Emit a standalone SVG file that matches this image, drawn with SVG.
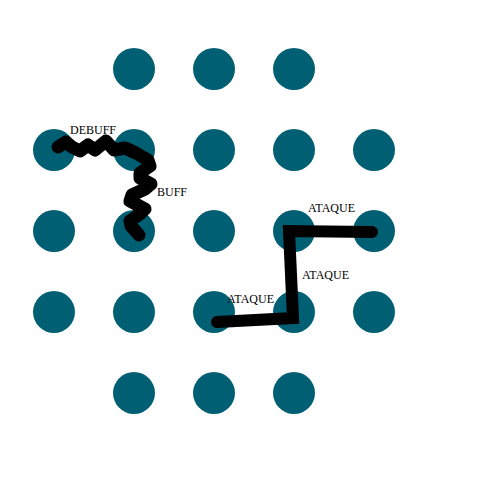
<svg xmlns="http://www.w3.org/2000/svg" width="480" height="480" viewBox="0 0 480 480">
<style>
.n{fill:#005f73}
.e{fill:none;stroke:#000;stroke-width:12;stroke-linecap:round;stroke-linejoin:round}
.t{font-family:"Liberation Serif",serif;font-size:12px;fill:#000}
</style>
<rect width="480" height="480" fill="#fff"/>
<g id="n1"><circle class="n" cx="134" cy="69" r="21"/></g>
<g id="n2"><circle class="n" cx="214" cy="69" r="21"/></g>
<g id="n3"><circle class="n" cx="294" cy="69" r="21"/></g>
<g id="n4"><circle class="n" cx="54" cy="150" r="21"/></g>
<g id="n5"><circle class="n" cx="134" cy="150" r="21"/></g>
<g id="n6"><circle class="n" cx="214" cy="150" r="21"/></g>
<g id="n7"><circle class="n" cx="294" cy="150" r="21"/></g>
<g id="n8"><circle class="n" cx="374" cy="150" r="21"/></g>
<g id="n9"><circle class="n" cx="54" cy="231" r="21"/></g>
<g id="n10"><circle class="n" cx="134" cy="231" r="21"/></g>
<g id="n11"><circle class="n" cx="214" cy="231" r="21"/></g>
<g id="n12"><circle class="n" cx="294" cy="231" r="21"/></g>
<g id="n13"><circle class="n" cx="374" cy="231" r="21"/></g>
<g id="n14"><circle class="n" cx="54" cy="312" r="21"/></g>
<g id="n15"><circle class="n" cx="134" cy="312" r="21"/></g>
<g id="n16"><circle class="n" cx="214" cy="312" r="21"/></g>
<g id="n17"><circle class="n" cx="294" cy="312" r="21"/></g>
<g id="n18"><circle class="n" cx="374" cy="312" r="21"/></g>
<g id="n19"><circle class="n" cx="134" cy="393" r="21"/></g>
<g id="n20"><circle class="n" cx="214" cy="393" r="21"/></g>
<g id="n21"><circle class="n" cx="294" cy="393" r="21"/></g>
<g id="connectors">
<polyline class="e" style="stroke-width:13" points="58,147 66,142 72,147 80,151 88,145 95,150 106,141 114,150 125,148 136,153 148,160 150,166 140,173 140,178 151,184 145,189 132,195 130,201 145,209 140,214 130,221 131,226 139,235"/>
<polyline class="e" points="217,322 293,318 289,231 372,232" style="stroke-linejoin:miter"/>
<text class="t" x="70" y="134">DEBUFF</text>
<text class="t" x="157" y="196">BUFF</text>
<text class="t" x="308" y="212">ATAQUE</text>
<text class="t" x="302" y="279">ATAQUE</text>
<text class="t" x="227" y="303">ATAQUE</text>
</g>
</svg>
